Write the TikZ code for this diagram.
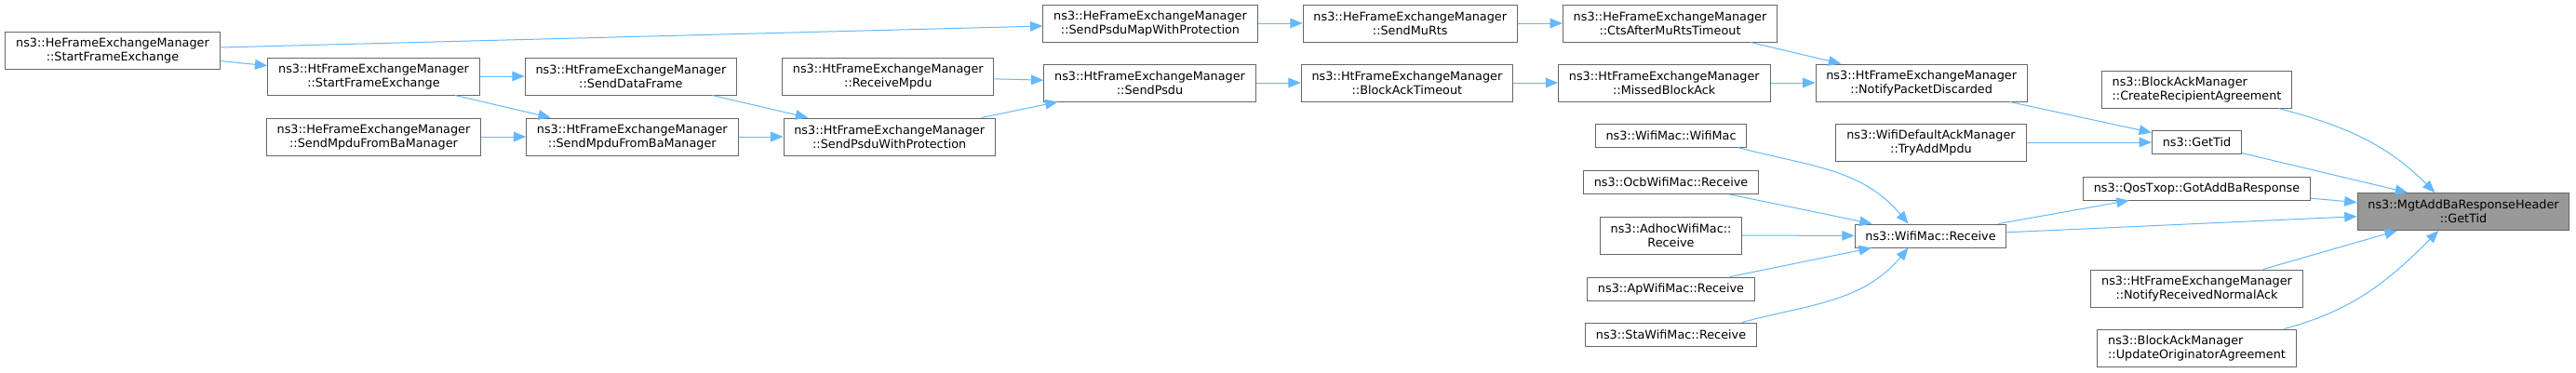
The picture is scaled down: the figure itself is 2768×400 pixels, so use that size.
\documentclass[tikz,border=0pt]{standalone}
\usepackage{fontspec}
\setmainfont{DejaVu Sans}
\usepackage{tikz}
\usetikzlibrary{positioning, arrows.meta}
\usepackage{xcolor}
\definecolor{callblue}{HTML}{63B8FF}
\definecolor{boxgrey}{HTML}{666666}
\definecolor{focusgrey}{HTML}{999999}

\begin{document}
\begin{tikzpicture}[x=0.75pt, y=0.75pt, node distance=18pt and 36pt,
	fn/.style={draw=boxgrey, line width=0.75pt, fill=white, inner xsep=8.5pt, inner ysep=2pt,
		minimum height=18.75pt, align=center, font=\fontsize{9.6pt}{11.25pt}\selectfont},
	fn2/.style={fn, minimum height=30pt},
	focus/.style={fn2, fill=focusgrey},
	>={Triangle[length=10pt, width=8pt]}]
	\useasboundingbox (0,0) rectangle (2768,-400);
	% frame exchange chain
	\node[fn2] (HeStart) at (121,-54) {ns3::HeFrameExchangeManager\\::StartFrameExchange};
	\node[fn2] (HtStart) at (401.5,-82) {ns3::HtFrameExchangeManager\\::StartFrameExchange};
	\node[fn2, below=of HtStart] (HeMpduBa) {ns3::HeFrameExchangeManager\\::SendMpduFromBaManager};
	\node[fn2, right=of HtStart] (HtDataFrame) {ns3::HtFrameExchangeManager\\::SendDataFrame};
	\node[fn2, right=of HeMpduBa] (HtMpduBa) {ns3::HtFrameExchangeManager\\::SendMpduFromBaManager};
	\node[fn2, right=of HtDataFrame] (HtRecvMpdu) {ns3::HtFrameExchangeManager\\::ReceiveMpdu};
	\node[fn2, right=of HtMpduBa] (HtPsduProt) {ns3::HtFrameExchangeManager\\::SendPsduWithProtection};
	\node[fn2] (HePsduMap) at (1236,-25) {ns3::HeFrameExchangeManager\\::SendPsduMapWithProtection};
	\node[fn2] (HtSendPsdu) at (1235.5,-89) {ns3::HtFrameExchangeManager\\::SendPsdu};
	\node[fn2, right=of HePsduMap] (HeMuRts) {ns3::HeFrameExchangeManager\\::SendMuRts};
	\node[fn2, right=of HtSendPsdu] (HtBaTimeout) {ns3::HtFrameExchangeManager\\::BlockAckTimeout};
	\node[fn2, right=of HeMuRts] (CtsTimeout) {ns3::HeFrameExchangeManager\\::CtsAfterMuRtsTimeout};
	\node[fn2, right=of HtBaTimeout] (MissedBa) {ns3::HtFrameExchangeManager\\::MissedBlockAck};
	\node[fn2, right=of MissedBa] (PktDiscarded) {ns3::HtFrameExchangeManager\\::NotifyPacketDiscarded};
	% receivers
	\node[fn] (WifiMacCtor) at (1795.5,-145.5) {ns3::WifiMac::WifiMac};
	\node[fn] (OcbRecv) at (1795.5,-196) {ns3::OcbWifiMac::Receive};
	\node[fn2] (AdhocRecv) at (1795.5,-253) {ns3::AdhocWifiMac::\\Receive};
	\node[fn] (ApRecv) at (1795.5,-310.5) {ns3::ApWifiMac::Receive};
	\node[fn] (StaRecv) at (1795.5,-359.5) {ns3::StaWifiMac::Receive};
	\node[fn2] (TryAddMpdu) at (2075,-153) {ns3::WifiDefaultAckManager\\::TryAddMpdu};
	\node[fn] (WifiMacRecv) at (2074.5,-253.5) {ns3::WifiMac::Receive};
	% direct callers
	\node[fn2, align=left] (CreateRecip) at (2360.5,-96) {ns3::BlockAckManager\\::CreateRecipientAgreement};
	\node[fn] (GetTid) at (2360.5,-153) {ns3::GetTid};
	\node[fn] (QosTxop) at (2360.5,-202.5) {ns3::QosTxop::GotAddBaResponse};
	\node[fn2] (NormalAck) at (2360.5,-310) {ns3::HtFrameExchangeManager\\::NotifyReceivedNormalAck};
	\node[fn2, align=left] (UpdateOrig) at (2360.5,-374) {ns3::BlockAckManager\\::UpdateOriginatorAgreement};
	\node[focus] (MgtAdd) at (2647,-227.5) {ns3::MgtAddBaResponseHeader\\::GetTid};
	\draw[callblue, line width=0.75pt]
	(HeStart) edge[->] (HePsduMap)
	(HeStart) edge[->] (HtStart)
	(HtStart) edge[->] (HtDataFrame)
	(HtStart) edge[->] (HtMpduBa)
	(HeMpduBa) edge[->] (HtMpduBa)
	(HtDataFrame) edge[->] (HtPsduProt)
	(HtMpduBa) edge[->] (HtPsduProt)
	(HtRecvMpdu) edge[->] (HtSendPsdu)
	(HtPsduProt) edge[->] (HtSendPsdu)
	(HePsduMap) edge[->] (HeMuRts)
	(HeMuRts) edge[->] (CtsTimeout)
	(HtSendPsdu) edge[->] (HtBaTimeout)
	(HtBaTimeout) edge[->] (MissedBa)
	(CtsTimeout) edge[->] (PktDiscarded)
	(MissedBa) edge[->] (PktDiscarded)
	(PktDiscarded) edge[->] (GetTid)
	(TryAddMpdu) edge[->] (GetTid)
	([xshift=-7.5pt]WifiMacCtor.south east) edge[->, out=-15, in=130] ([xshift=-18pt]WifiMacRecv.north)
	(OcbRecv) edge[->] (WifiMacRecv)
	(AdhocRecv) edge[->] (WifiMacRecv)
	(ApRecv) edge[->] (WifiMacRecv)
	([xshift=-12pt]StaRecv.north east) edge[->, out=15, in=-130] ([xshift=-18pt]WifiMacRecv.south)
	(WifiMacRecv) edge[->] (QosTxop)
	(WifiMacRecv) edge[->] (MgtAdd)
	([xshift=-11pt]CreateRecip.south east) edge[->, out=-15, in=135] ([xshift=-23pt]MgtAdd.north)
	(GetTid) edge[->] ([xshift=-45pt]MgtAdd.north)
	(QosTxop) edge[->] (MgtAdd)
	(NormalAck) edge[->] (MgtAdd)
	([xshift=-10pt]UpdateOrig.north east) edge[->, out=15, in=-135] ([xshift=-20pt]MgtAdd.south);
\end{tikzpicture}
\end{document}
